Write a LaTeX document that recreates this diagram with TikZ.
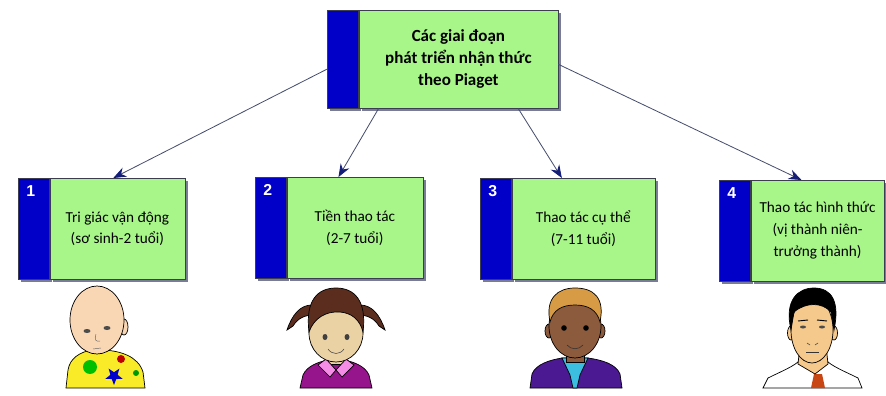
\documentclass[tikz,border=0pt]{standalone}
\usepackage{fontspec}
\setmainfont{Carlito}
\newfontfamily\numfont{Liberation Sans}
\usetikzlibrary{positioning,arrows.meta,shadows,calc}

\definecolor{stagegreen}{RGB}{168,245,138}
\definecolor{stripblue}{RGB}{0,0,200}
\definecolor{edgegray}{RGB}{60,62,80}
\definecolor{shadowgray}{RGB}{120,124,150}
\definecolor{linkgray}{RGB}{70,78,110}
\definecolor{headnavy}{RGB}{20,30,120}
\definecolor{babyskin}{RGB}{250,215,180}
\definecolor{babyshirt}{RGB}{250,235,40}
\definecolor{girlskin}{RGB}{235,210,165}
\definecolor{girlhair}{RGB}{90,45,30}
\definecolor{girlshirt}{RGB}{150,20,140}
\definecolor{girlcollar}{RGB}{245,140,230}
\definecolor{boyskin}{RGB}{140,90,60}
\definecolor{boyhair}{RGB}{215,155,70}
\definecolor{boyjacket}{RGB}{75,25,145}
\definecolor{boyshirt}{RGB}{60,190,225}
\definecolor{manskin}{RGB}{245,200,140}
\definecolor{mantie}{RGB}{200,70,20}

\begin{document}
\begin{tikzpicture}[
    x=0.03cm, y=-0.03cm,
    box_shadow/.style={drop shadow={shadow xshift=2.5pt, shadow yshift=-2.5pt, fill=shadowgray, opacity=1}},
    blue_strip/.style={draw=edgegray, line width=0.5pt, fill=stripblue, anchor=north west,
      minimum width=0.93cm, minimum height=3.03cm, inner sep=0pt, box_shadow},
    green_box/.style={draw=edgegray, line width=0.5pt, fill=stagegreen, align=center,
      minimum height=3.03cm, inner sep=2pt, font=\fontsize{13}{18.7}\selectfont, box_shadow},
    number_label/.style={font=\numfont\bfseries\fontsize{13.5}{13.5}\selectfont, text=white,
      anchor=north west, inner sep=0pt},
    link_arrow/.style={draw=linkgray, line width=0.7pt,
      -{Stealth[length=11pt, width=8.5pt, color=headnavy]}},
    outline/.style={draw=black, line width=0.6pt},
    ]

    \useasboundingbox (0,0) rectangle (886,396);

    % --- Top box ---
    \node[blue_strip, minimum height=2.94cm] (top_strip) at (327,10) {};
    \node[green_box, right=0pt of top_strip, minimum width=5.97cm, minimum height=2.94cm,
      font=\bfseries\fontsize{14.5}{18.7}\selectfont] (top) {
      Các giai đoạn \\
      phát triển nhận thức \\
      theo Piaget
    };

    % --- Stage boxes ---
    \node[blue_strip] (strip1) at (18,178) {};
    \node[green_box, right=0pt of strip1, minimum width=4.05cm] (stage1) {
      Tri giác vận động \\
      (sơ sinh-2 tuổi)
    };
    \node[number_label] (num1) at ([xshift=7pt, yshift=-6pt]strip1.north west) {1};

    \node[blue_strip] (strip2) at (255,177) {};
    \node[green_box, right=0pt of strip2, minimum width=4.08cm] (stage2) {
      Tiền thao tác \\
      (2-7 tuổi)
    };
    \node[number_label] (num2) at ([xshift=7pt, yshift=-6pt]strip2.north west) {2};

    \node[blue_strip] (strip3) at (480,178) {};
    \node[green_box, right=0pt of strip3, minimum width=4.29cm] (stage3) {
      Thao tác cụ thể \\
      (7-11 tuổi)
    };
    \node[number_label] (num3) at ([xshift=7pt, yshift=-6pt]strip3.north west) {3};

    \node[blue_strip] (strip4) at (719,180) {};
    \node[green_box, right=0pt of strip4, minimum width=4.0cm] (stage4) {
      Thao tác hình thức \\
      (vị thành niên- \\
      trưởng thành)
    };
    \node[number_label] (num4) at ([xshift=7pt, yshift=-6pt]strip4.north west) {4};

    % --- Arrows ---
    \draw[link_arrow] ($(top_strip.north west)!0.6!(top_strip.south west)$)
      -- ($(stage1.north west)!0.47!(stage1.north east)$);
    \draw[link_arrow] ($(top.south west)!0.1!(top.south east)$)
      -- ($(stage2.north west)!0.38!(stage2.north east)$);
    \draw[link_arrow] ($(top.south west)!0.8!(top.south east)$)
      -- ($(stage3.north west)!0.35!(stage3.north east)$);
    \draw[link_arrow] ($(top.north east)!0.55!(top.south east)$)
      -- ($(stage4.north west)!0.38!(stage4.north east)$);

    % --- Baby ---
    \filldraw[outline, fill=babyshirt] (66,388) -- (68,370) .. controls (70,358) and (80,352) .. (92,350)
      -- (104,350) .. controls (120,351) and (138,356) .. (143,372) -- (145,388) -- cycle;
    \fill[green!75!black] (90,367) circle (7);
    \fill[red!75!black] (121,359) circle (4);
    \fill[green!60!black] (136,373) circle (3);
    \fill[blue!80!black] (114,376) +(90:9) -- +(126:3.8) -- +(162:9) -- +(198:3.8) -- +(234:9)
      -- +(270:3.8) -- +(306:9) -- +(342:3.8) -- +(18:9) -- +(54:3.8) -- cycle;
    \filldraw[outline, fill=babyskin] (124,327) ellipse [x radius=4, y radius=8];
    \filldraw[outline, fill=babyskin] (97,320) ellipse [x radius=27, y radius=34];
    \fill[black!70] (87,331) ellipse [x radius=3.5, y radius=2];
    \fill[black!70] (107,328) ellipse [x radius=3.5, y radius=2];
    \draw[black!60, line width=0.4pt] (96,334) .. controls (94,340) and (96,342) .. (100,341);
    \draw[black!60, line width=0.4pt] (93,349) -- (101,348);

    % --- Girl ---
    \filldraw[outline, fill=girlhair] (312,305) .. controls (300,305) and (292,315) .. (287,330)
      -- (293,326) .. controls (298,318) and (305,315) .. (314,315) -- cycle;
    \filldraw[outline, fill=girlhair] (360,305) .. controls (372,305) and (380,315) .. (385,330)
      -- (379,326) .. controls (374,318) and (367,315) .. (358,315) -- cycle;
    \filldraw[outline, fill=girlshirt] (300,388) -- (303,375) .. controls (307,366) and (318,362) .. (328,360)
      -- (344,360) .. controls (354,362) and (365,366) .. (369,375) -- (372,388) -- cycle;
    \filldraw[outline, fill=girlskin] (328,350) rectangle (344,364);
    \filldraw[outline, fill=girlcollar] (326,359) -- (336,370) -- (330,377) -- (318,365) -- cycle;
    \filldraw[outline, fill=girlcollar] (346,359) -- (336,370) -- (342,377) -- (354,365) -- cycle;
    \filldraw[outline, fill=girlskin] (336,333) ellipse [x radius=27, y radius=29];
    \filldraw[outline, fill=girlhair] (309,332) .. controls (305,300) and (318,288) .. (336,288)
      .. controls (354,288) and (367,300) .. (363,332) .. controls (360,320) and (352,313) .. (340,312)
      .. controls (326,311) and (314,318) .. (309,332) -- cycle;
    \fill[black!75] (325,337) ellipse [x radius=2.5, y radius=3];
    \fill[black!75] (347,337) ellipse [x radius=2.5, y radius=3];
    \draw[black!70, line width=0.5pt] (328,349) .. controls (332,355) and (340,355) .. (344,349);

    % --- Boy ---
    \filldraw[outline, fill=boyjacket] (530,388) -- (532,374) .. controls (536,364) and (550,360) .. (562,358)
      -- (588,358) .. controls (602,360) and (616,364) .. (620,374) -- (622,388) -- cycle;
    \filldraw[outline, fill=boyshirt] (562,358) -- (588,358) -- (580,375) -- (577,388) -- (573,388)
      -- (570,375) -- cycle;
    \filldraw[outline, fill=boyskin] (566,346) rectangle (584,362);
    \filldraw[outline, fill=boyskin] (549,331) ellipse [x radius=4, y radius=7];
    \filldraw[outline, fill=boyskin] (601,331) ellipse [x radius=4, y radius=7];
    \filldraw[outline, fill=boyskin] (575,326) ellipse [x radius=26, y radius=32];
    \filldraw[outline, fill=boyhair] (550,322) .. controls (545,298) and (558,288) .. (575,288)
      .. controls (594,288) and (605,298) .. (600,322) .. controls (597,310) and (588,305) .. (575,305)
      .. controls (562,305) and (553,310) .. (550,322) -- cycle;
    \fill[black] (564,328) circle (2.8);
    \fill[black] (586,328) circle (2.8);
    \draw[black!80, line width=0.5pt] (567,345) .. controls (571,350) and (579,350) .. (583,345);

    % --- Man ---
    \filldraw[outline, fill=white] (763,388) -- (768,378) .. controls (780,372) and (795,366) .. (800,360)
      -- (826,360) .. controls (831,366) and (846,372) .. (858,378) -- (862,388) -- cycle;
    \fill[mantie] (814,374) -- (822,374) -- (825,388) -- (811,388) -- cycle;
    \filldraw[outline, fill=manskin] (800,345) -- (826,345) -- (828,364) -- (815,374) -- (798,364) -- cycle;
    \filldraw[outline, fill=manskin] (791,333) ellipse [x radius=3.5, y radius=7];
    \filldraw[outline, fill=manskin] (834,333) ellipse [x radius=3.5, y radius=7];
    \filldraw[outline, fill=manskin] (812,330) ellipse [x radius=21, y radius=33];
    \filldraw[outline, fill=black] (791,330) .. controls (784,300) and (798,288) .. (814,288)
      .. controls (832,288) and (840,302) .. (834,330) -- (831,312) .. controls (822,302) and (806,302) .. (794,312) -- cycle;
    \draw[black, line width=0.8pt] (798,321) -- (808,320) (817,320) -- (827,321);
    \fill[black!70] (803,327) ellipse [x radius=3, y radius=1.5];
    \fill[black!70] (822,327) ellipse [x radius=3, y radius=1.5];
    \draw[black!70, line width=0.5pt] (807,343) -- (810,345) (815,345) -- (818,343);
    \draw[black!80, line width=0.8pt] (806,352) -- (819,352);

\end{tikzpicture}
\end{document}
